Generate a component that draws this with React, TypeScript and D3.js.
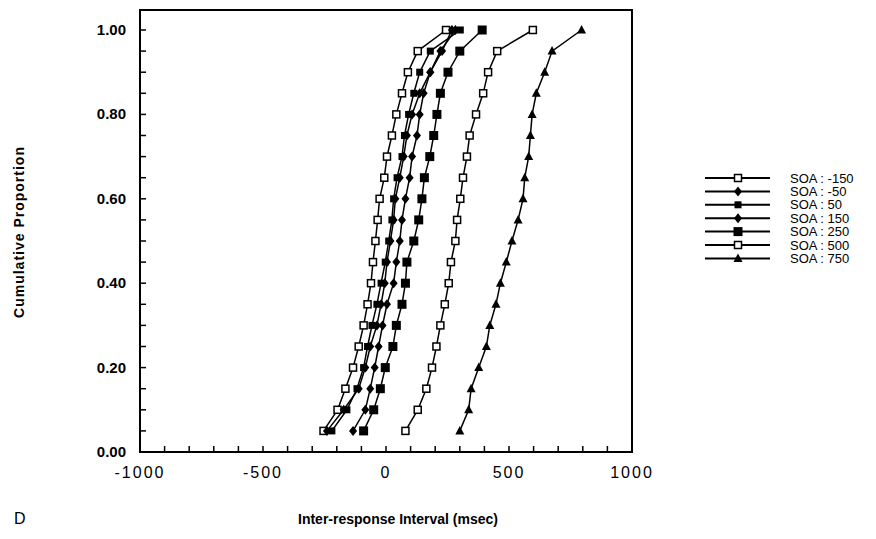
import React from 'react';
import * as d3 from 'd3';

const proportions = d3.range(1, 21).map(i => i * 0.05);
const soaNeg150 = [-254, -197, -165, -134, -111, -91, -75, -61, -53, -43, -34, -26, -7, 4, 24, 42, 65, 89, 129, 244];
const soaNeg50 = [-240, -172, -111, -84, -64, -37, -20, -5, 4, 18, 31, 38, 56, 72, 85, 106, 137, 180, 221, 282];
const soa50 = [-220, -159, -118, -91, -75, -57, -37, -20, -3, 11, 24, 31, 45, 65, 75, 92, 113, 137, 180, 302];
const soa150 = [-134, -84, -64, -46, -30, -14, 4, 31, 42, 56, 65, 79, 96, 106, 126, 137, 153, 180, 228, 268];
const soa250 = [-91, -50, -23, -3, 28, 42, 65, 79, 85, 113, 133, 146, 156, 178, 194, 207, 221, 252, 300, 391];
const soa500 = [79, 129, 164, 187, 205, 221, 239, 255, 264, 282, 289, 302, 313, 329, 340, 366, 395, 415, 452, 597];
const soa750 = [300, 336, 346, 377, 408, 422, 447, 465, 489, 512, 537, 557, 564, 580, 587, 594, 611, 645, 675, 795];

const series = [
  { name: 'SOA : -150', values: soaNeg150, marker: 'openSquare' },
  { name: 'SOA : -50', values: soaNeg50, marker: 'diamond' },
  { name: 'SOA : 50', values: soa50, marker: 'square' },
  { name: 'SOA : 150', values: soa150, marker: 'diamond' },
  { name: 'SOA : 250', values: soa250, marker: 'bigSquare' },
  { name: 'SOA : 500', values: soa500, marker: 'openSquare' },
  { name: 'SOA : 750', values: soa750, marker: 'triangle' },
];

const xTicks = [-1000, -500, 0, 500, 1000];
const yTicks = [0, 0.2, 0.4, 0.6, 0.8, 1.0];

const x = d3.scaleLinear().domain([-1000, 1000]).range([140, 632]);
const y = d3.scaleLinear().domain([0, 1]).range([452, 30]);

const Marker = ({ kind, cx, cy }: { kind: string; cx: number; cy: number }) => {
  if (kind === 'openSquare') return <rect x={cx - 3.5} y={cy - 3.5} width={7} height={7} fill="#fff" stroke="#000" strokeWidth={1.5} />;
  if (kind === 'square') return <rect x={cx - 3.5} y={cy - 3.5} width={7} height={7} fill="#000" />;
  if (kind === 'bigSquare') return <rect x={cx - 4.5} y={cy - 4.5} width={9} height={9} fill="#000" />;
  if (kind === 'diamond') return <path d={`M${cx},${cy - 5}L${cx + 4},${cy}L${cx},${cy + 5}L${cx - 4},${cy}Z`} fill="#000" />;
  return <path d={`M${cx},${cy - 5}L${cx + 4.5},${cy + 3.5}L${cx - 4.5},${cy + 3.5}Z`} fill="#000" />;
};

export default function App() {
  const line = d3.line<number>().x(d => x(d)).y((_, i) => y(proportions[i]));
  const font = 'Arial, "Liberation Sans", sans-serif';
  return (
    <svg width={876} height={539} style={{ position: 'absolute', left: 0, top: 0 }} fontFamily={font}>
      <rect width={876} height={539} fill="#fff" />
      <rect x={140} y={10} width={492} height={442} fill="none" stroke="#000" strokeWidth={2} />
      {d3.range(0, 1.001, 0.05).map(t => (
        <line key={'yt' + t} x1={140} x2={146} y1={y(t)} y2={y(t)} stroke="#000" strokeWidth={1.5} />
      ))}
      {d3.range(-1000, 1001, 100).map(t => (
        <line key={'xt' + t} x1={x(t)} x2={x(t)} y1={452} y2={446} stroke="#000" strokeWidth={1.5} />
      ))}
      {yTicks.map(t => (
        <text key={'yl' + t} x={126} y={y(t) + 5} textAnchor="end" fontSize={15} fontWeight="bold">{t.toFixed(2)}</text>
      ))}
      {xTicks.map(t => (
        <text key={'xl' + t} x={x(t)} y={478} textAnchor="middle" fontSize={16} letterSpacing={2}>{t}</text>
      ))}
      {series.map(s => (
        <g key={s.name}>
          <path d={line(s.values) ?? ''} fill="none" stroke="#000" strokeWidth={1.5} />
          {s.values.map((v, i) => <Marker key={i} kind={s.marker} cx={x(v)} cy={y(proportions[i])} />)}
        </g>
      ))}
      {series.map((s, i) => {
        const ly = 178 + i * 13.4;
        return (
          <g key={'lg' + s.name}>
            <line x1={705} x2={770} y1={ly} y2={ly} stroke="#000" strokeWidth={2} />
            <Marker kind={s.marker} cx={738} cy={ly} />
            <text x={790} y={ly + 4.5} fontSize={13}>{s.name}</text>
          </g>
        );
      })}
      <text transform="translate(24,232) rotate(-90)" textAnchor="middle" fontSize={14} fontWeight="bold" letterSpacing={1}>Cumulative  Proportion</text>
      <text x={398} y={524} textAnchor="middle" fontSize={14} fontWeight="bold">Inter-response Interval (msec)</text>
      <text x={14} y={524} fontSize={16}>D</text>
    </svg>
  );
}
